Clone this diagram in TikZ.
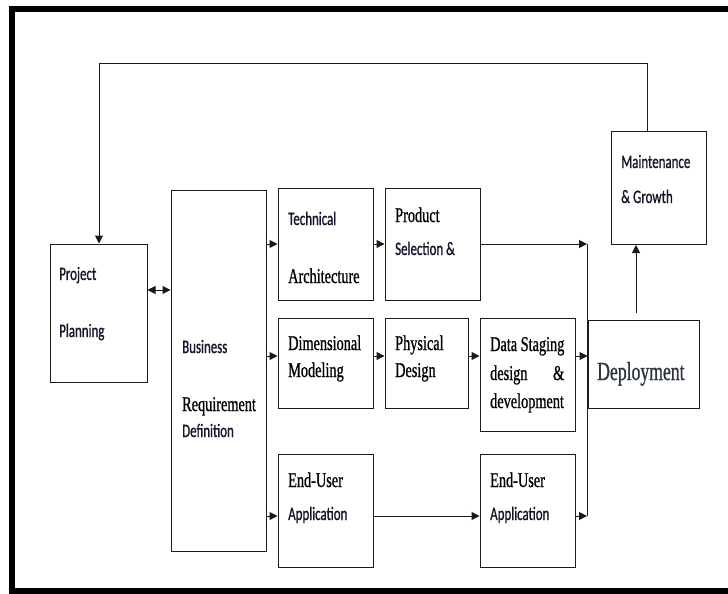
\documentclass[tikz,border=0pt]{standalone}
\usepackage{fontspec}
\usepackage{tikz}
\usetikzlibrary{calc,arrows.meta}
\newfontfamily\sanslab[FakeStretch=0.68,FakeBold=0.8]{Carlito}
\newfontfamily\seriflab[FakeStretch=0.68,FakeBold=0.8]{Liberation Serif}
\definecolor{frame}{HTML}{000000}
\definecolor{edge}{HTML}{1A1A1A}
\definecolor{ink}{HTML}{14142A}
\definecolor{deptext}{HTML}{2E3440}
\tikzset{
  blk/.style 2 args={draw=edge, line width=1pt, fill=white, inner sep=0pt,
    minimum width=#1pt, minimum height=#2pt},
  sl/.style={anchor=base west, inner sep=0pt, text=ink,
    font=\sanslab\fontsize{19}{21}\selectfont},
  rl/.style={anchor=base west, inner sep=0pt, text=black,
    font=\seriflab\fontsize{21}{23}\selectfont},
  wire/.style={draw=edge, line width=1pt},
  arr/.style={wire, -{Triangle[length=8pt,width=8pt]}},
  arrboth/.style={wire, {Triangle[length=8pt,width=8pt]}-{Triangle[length=8pt,width=8pt]}}
}
\begin{document}
\begin{tikzpicture}[x=1pt, y=-1pt]
  \useasboundingbox (0,0) rectangle (728,594);
  \draw[frame, line width=6pt] (728,9.5) -- (11.5,9.5) -- (11.5,590.5) -- (728,590.5);

  % boxes
  \node[blk={97}{138}] (pp)  at (98.5,313)   {};
  \node[blk={95}{361}] (brd) at (218.5,370.5) {};
  \node[blk={95}{112}] (ta)  at (325.5,244)  {};
  \node[blk={95}{112}] (ps)  at (432.5,244)  {};
  \node[blk={95}{90}]  (dm)  at (325.5,363)  {};
  \node[blk={83}{90}]  (pd)  at (426.5,363)  {};
  \node[blk={95}{113}] (ds)  at (527.5,374.5) {};
  \node[blk={111}{88}] (dep) at (643.5,364)  {};
  \node[blk={95}{113}] (mg)  at (658.5,188)  {};
  \node[blk={95}{113}] (eu1) at (325.5,510.5) {};
  \node[blk={95}{113}] (eu2) at (527.5,510.5) {};

  % labels
  \node[sl] (ppA) at (59,280) {Project};
  \node[sl] (ppB) at (59,337) {Planning};
  \node[sl] (brdA) at (182,353) {Business};
  \node[rl] (brdB) at (182,411) {Requirement};
  \node[sl] (brdC) at (182,437) {Definition};
  \node[sl] (taA) at (288,225) {Technical};
  \node[rl] (taB) at (288,283) {Architecture};
  \node[rl] (psA) at (395,222) {Product};
  \node[sl] (psB) at (395,255) {Selection \&};
  \node[rl] (dmA) at (288,350) {Dimensional};
  \node[rl] (dmB) at (288,377) {Modeling};
  \node[rl] (pdA) at (395,350) {Physical};
  \node[rl] (pdB) at (395,377) {Design};
  \node[rl] (dsA) at (490,351) {Data Staging};
  \node[rl] (dsB) at (490,380) {\makebox[74pt][l]{design\hfill\&}};
  \node[rl] (dsC) at (490,408) {development};
  \node[rl, text=deptext, font=\seriflab\fontsize{26}{28}\selectfont] (depA) at (597,380) {Deployment};
  \node[sl] (mgA) at (621,168) {Maintenance};
  \node[sl] (mgB) at (621,203) {\&\,Growth};
  \node[rl] (euA) at (288,487) {End-User};
  \node[sl] (euB) at (288,520) {Application};
  \node[rl] (euC) at (490,487) {End-User};
  \node[sl] (euD) at (490,520) {Application};

  % rows and bus
  \coordinate (rowP) at (0,290);
  \coordinate (rowA) at (0,244);
  \coordinate (rowB) at (0,356);
  \coordinate (rowC) at (0,516);
  \coordinate (busT) at (587,244);
  \coordinate (busB) at (587,516);
  \coordinate (fbR) at (647,64);
  \coordinate (fbL) at (99,64);
  \coordinate (depT) at (636,313);

  \draw[arrboth] (pp.east |- rowP) -- (brd.west |- rowP);
  \draw[arr] (brd.east |- rowA) -- (ta.west |- rowA);
  \draw[arr] (brd.east |- rowB) -- (dm.west |- rowB);
  \draw[arr] (brd.east |- rowC) -- (eu1.west |- rowC);
  \draw[arr] (ta.east |- rowA) -- (ps.west |- rowA);
  \draw[arr] (dm.east |- rowB) -- (pd.west |- rowB);
  \draw[arr] (pd.east |- rowB) -- (ds.west |- rowB);
  \draw[arr] (ds.east |- rowB) -- (dep.west |- rowB);
  \draw[arr] (eu1.east |- rowC) -- (eu2.west |- rowC);

  % bus into deployment
  \draw[arr] (ps.east |- rowA) -- (busT);
  \draw[wire] (busT) -- (busB);
  \draw[arr] (eu2.east |- rowC) -- (busB);

  % deployment up, feedback to planning
  \draw[arr] (depT) -- (mg.south -| depT);
  \draw[arr] (mg.north -| fbR) -- (fbR) -- (fbL) -- (pp.north -| fbL);
\end{tikzpicture}
\end{document}
